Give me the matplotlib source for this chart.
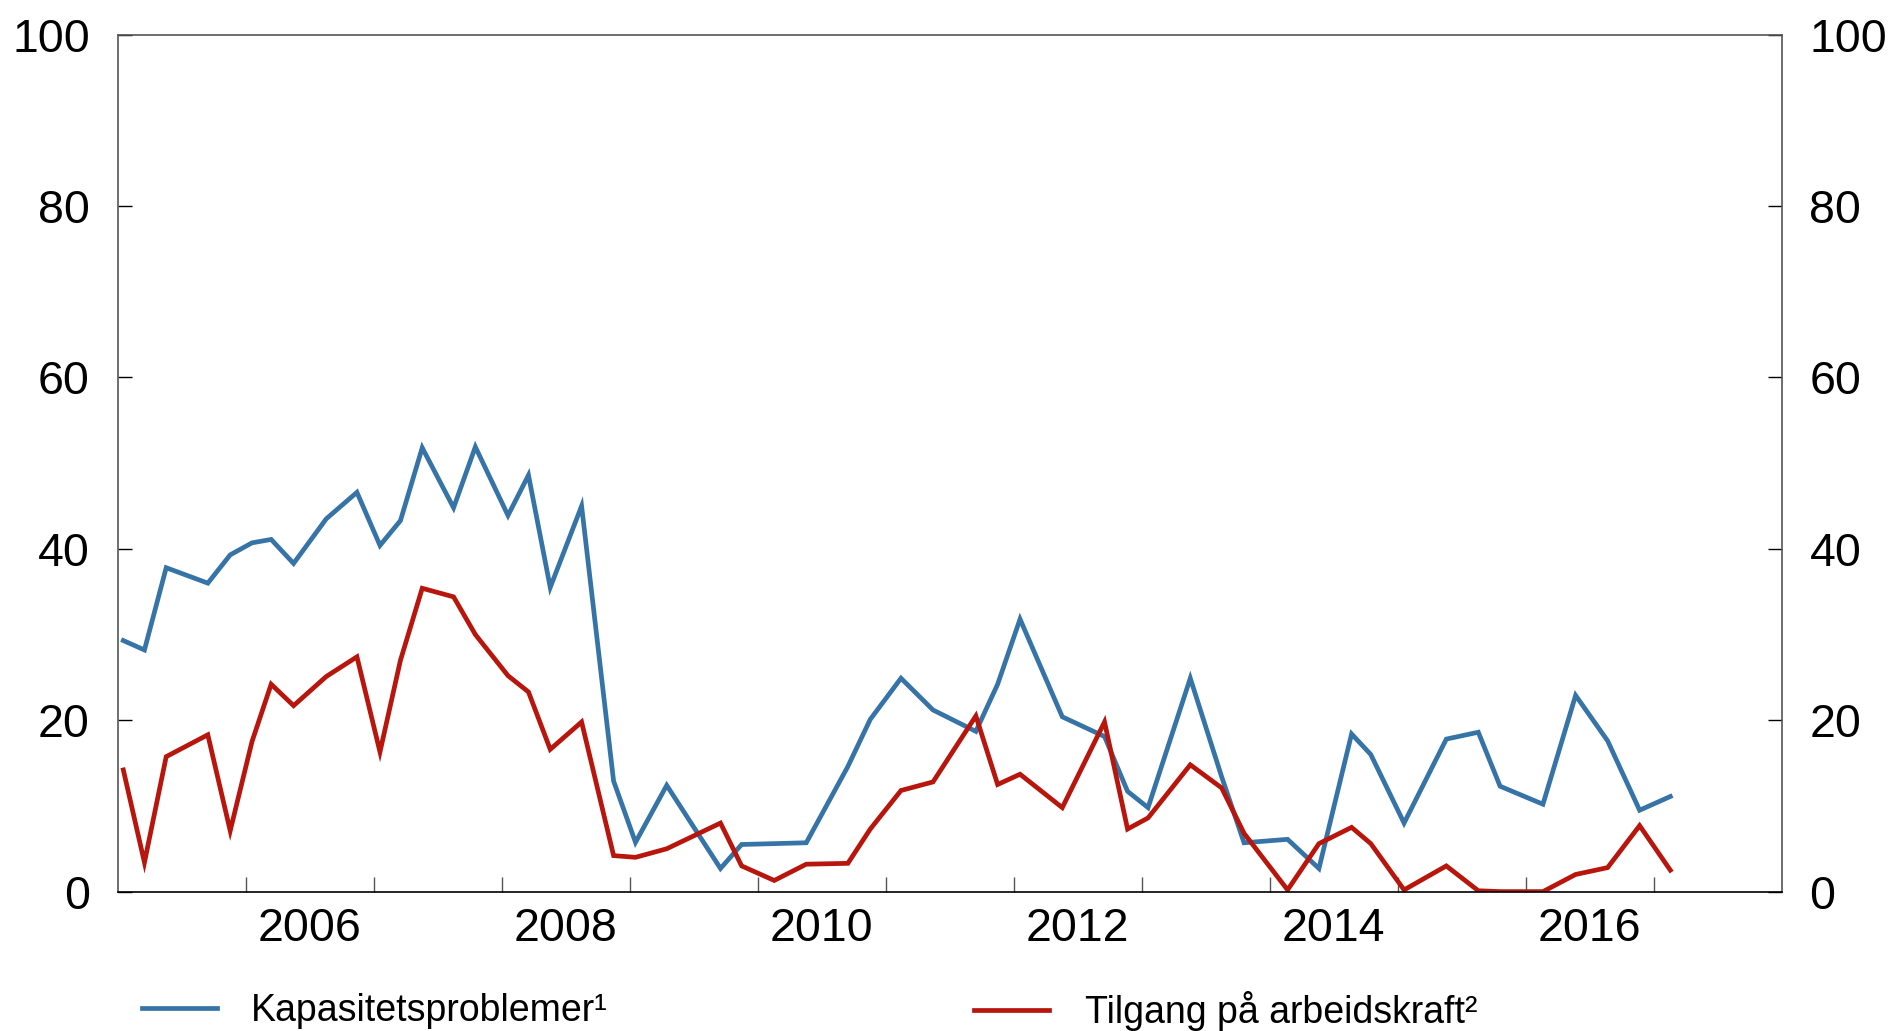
import matplotlib
matplotlib.use("Agg")
import matplotlib.pyplot as plt
from matplotlib.ticker import FixedLocator, NullFormatter, FixedFormatter

plt.rcParams['font.family'] = ['Liberation Sans', 'DejaVu Sans']

# survey rounds, as decimal years
dates = [2005.045, 2005.21, 2005.38, 2005.705, 2005.88,
         2006.05, 2006.20, 2006.375, 2006.63, 2006.87,
         2007.05, 2007.21, 2007.38, 2007.625, 2007.795,
         2008.05, 2008.21, 2008.38, 2008.625, 2008.875,
         2009.046, 2009.29, 2009.71, 2009.875,
         2010.13, 2010.38, 2010.705, 2010.88,
         2011.12, 2011.37, 2011.705, 2011.875,
         2012.05, 2012.38, 2012.71, 2012.89,
         2013.05, 2013.38, 2013.625, 2013.80,
         2014.14, 2014.385, 2014.64, 2014.79,
         2015.05, 2015.38, 2015.63, 2015.80,
         2016.135, 2016.39, 2016.64, 2016.89,
         2017.13]

kapasitet = [29.3, 28.2, 37.8, 36.0, 39.3,
             40.7, 41.1, 38.3, 43.5, 46.6,
             40.4, 43.3, 51.8, 44.8, 51.9,
             43.9, 48.6, 35.5, 45.0, 12.9,
             5.75, 12.4, 2.7, 5.5,
             5.6, 5.7, 14.6, 20.1,
             24.9, 21.2, 18.7, 24.2,
             31.8, 20.4, 18.1, 11.7,
             9.8, 24.9, 13.4, 5.7,
             6.1, 2.7, 18.4, 16.0,
             8.0, 17.8, 18.6, 12.3,
             10.2, 22.9, 17.6, 9.5,
             11.1]

arbeidskraft = [14.2, 3.4, 15.75, 18.3, 7.1,
                17.5, 24.2, 21.7, 25.1, 27.4,
                16.3, 27.0, 35.4, 34.4, 30.0,
                25.2, 23.3, 16.6, 19.8, 4.2,
                4.0, 5.0, 8.0, 3.0,
                1.3, 3.2, 3.3, 7.3,
                11.8, 12.8, 20.5, 12.5,
                13.7, 9.8, 19.8, 7.3,
                8.6, 14.8, 12.1, 6.8,
                0.2, 5.6, 7.5, 5.6,
                0.2, 3.0, 0.1, 0.0,
                0.0, 2.0, 2.8, 7.7,
                2.5]

labels = ['Kapasitetsproblemer¹', 'Tilgang på arbeidskraft²']
colors = ['#3674a8', '#b8160c']

year_ticks = list(range(2006, 2018))
label_pos = [2006.5, 2008.5, 2010.5, 2012.5, 2014.5, 2016.5]
label_txt = ['2006', '2008', '2010', '2012', '2014', '2016']

fig = plt.figure(figsize=(18.9, 10.31), dpi=100)
ax = fig.add_axes([0.0622, 0.1352, 0.8805, 0.8311])

l1, = ax.plot(dates, kapasitet, c=colors[0], lw=3.4, solid_joinstyle='miter')
l2, = ax.plot(dates, arbeidskraft, c=colors[1], lw=3.4, solid_joinstyle='miter')

ax.set_xlim(2005, 2018)
ax.set_ylim(0, 100)

ax.xaxis.set_major_locator(FixedLocator(year_ticks))
ax.xaxis.set_major_formatter(NullFormatter())
ax.xaxis.set_minor_locator(FixedLocator(label_pos))
ax.xaxis.set_minor_formatter(FixedFormatter(label_txt))
ax.tick_params(axis='x', which='major', direction='in', length=11, width=1.0, color='#555555')
ax.tick_params(axis='x', which='minor', length=0, labelsize=33.5, pad=11)

ax.set_yticks([0, 20, 40, 60, 80, 100])
ax.tick_params(axis='y', direction='in', length=10, width=1.0, labelsize=33.5,
               left=True, right=True, labelleft=True, labelright=True, pad=20)

for s in ax.spines.values():
    s.set_color('#555555')
    s.set_linewidth(1.2)
ax.spines['bottom'].set_color('black')

legend_y = 1 - 1011 / 1031
leg1 = fig.legend([l1], [labels[0]], loc='center left', bbox_to_anchor=(142 / 1890, legend_y),
                  frameon=False, fontsize=27, handlelength=2.0, handletextpad=0.9,
                  borderpad=0, borderaxespad=0)
leg2 = fig.legend([l2], [labels[1]], loc='center left', bbox_to_anchor=(974 / 1890, legend_y),
                  frameon=False, fontsize=27, handlelength=2.0, handletextpad=0.95,
                  borderpad=0, borderaxespad=0)

fig.savefig('out.png', dpi=100)
